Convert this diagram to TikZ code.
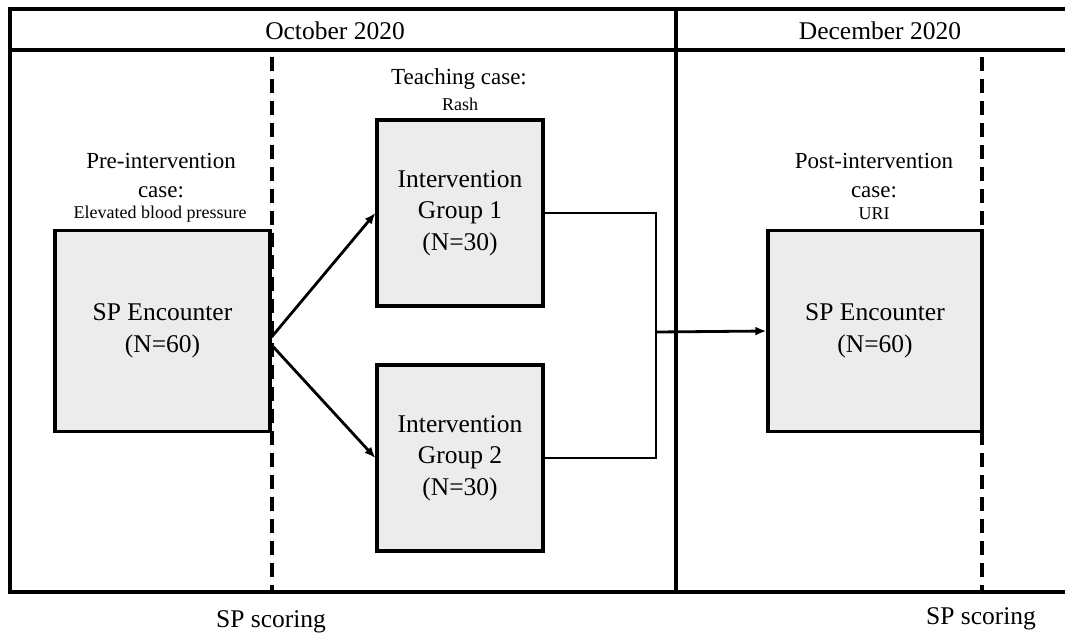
\documentclass[tikz,border=0pt]{standalone}
\usepackage{fontspec}
\setmainfont{Liberation Serif}
\usetikzlibrary{arrows.meta}
\usetikzlibrary{positioning}

\begin{document}
\begin{tikzpicture}[x=1pt,y=-1pt,
    spbox/.style={draw,line width=3.2pt,fill=gray!15,align=center,inner sep=0pt,
      font=\fontsize{25.5}{31.5}\selectfont},
    headtext/.style={font=\fontsize{25.5}{30}\selectfont},
    casetext/.style={font=\fontsize{23}{27}\selectfont},
    smalltext/.style={font=\fontsize{18}{21}\selectfont},
    flow/.style={line width=2.8pt,-{Latex[length=11pt,width=9pt]}},
    frameline/.style={line width=3.6pt},
    scoreline/.style={line width=3.6pt,dash pattern=on 14pt off 8pt}]
      \useasboundingbox (0,0) rectangle (1065,633);
      % Rahmen und Kopfzeile
      \draw[frameline] (1065,9)--(10,9)--(10,592)--(1065,592);
      \draw[frameline] (10,50)--(1065,50);
      \draw[frameline] (676,9)--(676,592);
      \node[headtext] (oct) at (335,31) {October 2020};
      \node[headtext] (dec) at (880,31) {December 2020};
      % Kaesten
      \node[spbox,minimum width=215,minimum height=201] (sp1) at (162.5,331) {SP Encounter\\(N=60)};
      \node[spbox,minimum width=166,minimum height=186] (g1) at (460,213) {Intervention\\Group 1\\(N=30)};
      \node[spbox,minimum width=166,minimum height=186] (g2) at (460,458) {Intervention\\Group 2\\(N=30)};
      \node[spbox,minimum width=214,minimum height=201] (sp2) at (875,331) {SP Encounter\\(N=60)};
      % Gestrichelte Linien
      \foreach \x in {272,982}
      \draw[scoreline] (\x,57)--(\x,592);
      % Pfeile
      \draw[flow] ([yshift=-6pt]sp1.east) -- (g1.west);
      \draw[flow] ([yshift=-14pt]sp1.east) -- (g2.west);
      \coordinate (merge) at (656,332);
      \draw[line width=2.8pt] (g1.east) -| (merge) |- (g2.east);
      \draw[flow] (merge) -- (sp2.west);
      % Beschriftungen
      \node[casetext] (teach) at (459,79) {Teaching case:};
      \node[smalltext] (rash) at (460,104) {Rash};
      \node[casetext] (pre) at (161,161) {Pre-intervention};
      \node[casetext] (precase) at (161,192) {case:};
      \node[smalltext] (bp) at (160,214) {Elevated blood pressure};
      \node[casetext] (post) at (874,161) {Post-intervention};
      \node[casetext] (postcase) at (874,192) {case:};
      \node[smalltext] (uri) at (874,214) {URI};
      \node[headtext] (score1) at (271,622) {SP scoring};
      \node[headtext] (score2) at (981,619) {SP scoring};
\end{tikzpicture}
\end{document}
